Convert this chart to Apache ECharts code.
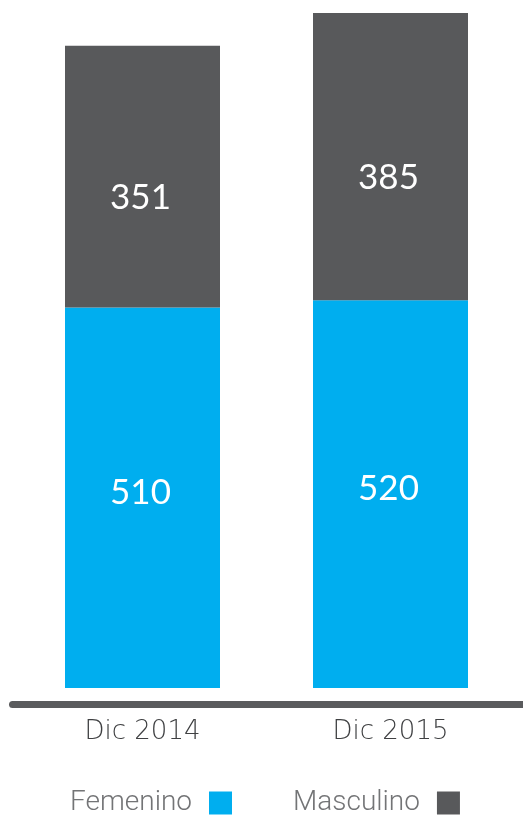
<!DOCTYPE html>
<html>
<head>
<meta charset="utf-8">
<script src="https://cdn.jsdelivr.net/npm/echarts@6/dist/echarts.min.js"></script>
<style>
html,body{margin:0;padding:0;background:#fff;}
#c{width:523px;height:815px;}
</style>
</head>
<body>
<div id="c"></div>
<script>
const categories = ['Dic 2014', 'Dic 2015'];
const femenino = [510, 520];
const masculino = [351, 385];
const seriesNames = ['Femenino', 'Masculino'];

const chart = echarts.init(document.getElementById('c'), null, {renderer: 'canvas'});
const labelStyle = {
  show: true,
  position: 'inside',
  color: '#ffffff',
  fontSize: 35,
  fontFamily: 'Lato, Roboto, sans-serif'
};
chart.setOption({
  animation: false,
  grid: [
    {left: 18.5, right: 8.5, top: 13, bottom: 127},
    {left: 12.5, right: 0, bottom: 110.5, height: 1}
  ],
  legend: {
    data: seriesNames,
    left: 70,
    top: 789,
    padding: 0,
    align: 'right',
    icon: 'rect',
    itemWidth: 23,
    itemHeight: 23,
    itemGap: 61,
    textStyle: {
      fontSize: 28,
      color: '#737476',
      fontFamily: 'Roboto, sans-serif',
      fontWeight: 300,
      padding: [0, 12, 0, 0]
    }
  },
  xAxis: [
    {
      type: 'category',
      data: categories,
      gridIndex: 0,
      axisLine: {show: false},
      axisTick: {show: false},
      axisLabel: {
        margin: 31,
        fontSize: 26,
        color: '#3f4042',
        fontFamily: 'DejaVu Sans, sans-serif',
        fontWeight: 300
      }
    },
    {
      type: 'value',
      gridIndex: 1,
      min: 0,
      max: 1,
      axisLine: {show: true, lineStyle: {color: '#5a5b5d', width: 7, cap: 'round'}},
      axisTick: {show: false},
      axisLabel: {show: false},
      splitLine: {show: false}
    }
  ],
  yAxis: [
    {type: 'value', gridIndex: 0, min: 0, max: 905, show: false},
    {type: 'value', gridIndex: 1, show: false}
  ],
  series: [
    {
      name: seriesNames[0],
      type: 'bar',
      stack: 'total',
      data: femenino,
      barWidth: 155,
      itemStyle: {color: '#00aeef'},
      label: Object.assign({}, labelStyle, {offset: [-2, -5]})
    },
    {
      name: seriesNames[1],
      type: 'bar',
      stack: 'total',
      data: masculino,
      barWidth: 155,
      itemStyle: {color: '#58595b'},
      label: Object.assign({}, labelStyle, {offset: [-2, 21]})
    }
  ]
});
</script>
</body>
</html>
